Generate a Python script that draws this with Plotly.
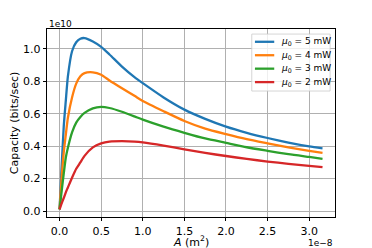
import plotly.graph_objects as go

# A in units of 1e-8 m^2, capacity in units of 1e10 bits/sec
area = [0, 0.02, 0.05, 0.075, 0.1, 0.15, 0.2, 0.25, 0.3, 0.4, 0.5, 0.6, 0.75, 0.9, 1.0,
        1.25, 1.5, 1.75, 2.0, 2.25, 2.5, 2.75, 3.0, 3.16]

cap_5mw = [0.01, 0.22, 0.52, 0.68, 0.83, 0.985, 1.04, 1.062, 1.066, 1.045, 1.012, 0.965, 0.89,
           0.825, 0.788, 0.70, 0.625, 0.568, 0.52, 0.482, 0.45, 0.422, 0.398, 0.386]
cap_4mw = [0.01, 0.17, 0.36, 0.47, 0.575, 0.70, 0.785, 0.83, 0.85, 0.855, 0.84, 0.805, 0.757,
           0.71, 0.678, 0.615, 0.555, 0.508, 0.474, 0.443, 0.417, 0.392, 0.371, 0.359]
cap_3mw = [0.01, 0.10, 0.23, 0.33, 0.39, 0.485, 0.545, 0.58, 0.605, 0.633, 0.642, 0.635, 0.612,
           0.583, 0.563, 0.52, 0.482, 0.447, 0.42, 0.393, 0.371, 0.35, 0.333, 0.322]
cap_2mw = [0.01, 0.04, 0.08, 0.115, 0.145, 0.205, 0.26, 0.30, 0.34, 0.392, 0.417, 0.428, 0.431,
           0.428, 0.423, 0.403, 0.38, 0.358, 0.339, 0.321, 0.305, 0.291, 0.278, 0.27]

series_names = ["<i>μ</i><sub>0</sub> = 5 mW", "<i>μ</i><sub>0</sub> = 4 mW",
                "<i>μ</i><sub>0</sub> = 3 mW", "<i>μ</i><sub>0</sub> = 2 mW"]
series_values = [cap_5mw, cap_4mw, cap_3mw, cap_2mw]
series_colors = ["#1f77b4", "#ff7f0e", "#2ca02c", "#d62728"]

x_ticks = [0, 0.5, 1.0, 1.5, 2.0, 2.5, 3.0]
y_ticks = [0, 0.2, 0.4, 0.6, 0.8, 1.0]

fig = go.Figure()
for name, vals, color in zip(series_names, series_values, series_colors):
    fig.add_trace(go.Scatter(x=area, y=vals, mode="lines", name=name, showlegend=False,
                             line=dict(color=color, width=2.3, shape="spline", smoothing=0.6)))

font = dict(family="DejaVu Sans", size=11, color="black")
axis_common = dict(showline=True, linecolor="black", linewidth=0.8, mirror=True,
                   ticks="outside", ticklen=3.5, tickwidth=0.8, tickcolor="black",
                   showgrid=True, gridcolor="#b0b0b0", gridwidth=0.8, zeroline=False,
                   tickfont=font, automargin=False)

# page has an 8px body margin; figure sized/offset to compensate
fig.update_layout(
    width=364, height=240, autosize=False,
    margin=dict(l=39, r=37, t=21, b=31),
    paper_bgcolor="white", plot_bgcolor="white",
    font=font,
    xaxis=dict(range=[-0.151, 3.31], tickvals=x_ticks, tickformat=".1f", **axis_common),
    yaxis=dict(range=[-0.037, 1.122], tickvals=y_ticks, tickformat=".1f",
               title=dict(text="Capacity (bits/sec)", font=font, standoff=2), **axis_common),
    showlegend=False,
)

# x-axis title
fig.add_annotation(text="<i>A</i> (m<sup>2</sup>)", xref="paper", yref="paper", x=0.5, y=0,
                   xanchor="center", yanchor="top", showarrow=False, font=font, yshift=-15)
# offset texts
fig.add_annotation(text="1e10", xref="paper", yref="paper", x=0, y=1.0,
                   xanchor="left", yanchor="bottom", showarrow=False,
                   font=dict(family="DejaVu Sans", size=9, color="black"), yshift=-2)
fig.add_annotation(text="1e−8", xref="paper", yref="paper", x=1.0, y=0,
                   xanchor="right", yanchor="top", showarrow=False,
                   font=dict(family="DejaVu Sans", size=9, color="black"), yshift=-19)

# custom compact legend (matplotlib style)
leg_x0, leg_x1, leg_top, leg_bottom = 0.711, 0.983, 0.973, 0.670
fig.add_shape(type="rect", xref="paper", yref="paper", x0=leg_x0, x1=leg_x1,
              y0=leg_bottom, y1=leg_top, fillcolor="rgba(255,255,255,0.8)",
              line=dict(color="#cccccc", width=0.8), layer="above")
first_y, step = 0.932, 0.0715
for i, (name, color) in enumerate(zip(series_names, series_colors)):
    yy = first_y - i * step
    fig.add_shape(type="line", xref="paper", yref="paper", x0=0.722, x1=0.789, y0=yy, y1=yy,
                  line=dict(color=color, width=2.3), layer="above")
    fig.add_annotation(text=name, xref="paper", yref="paper", x=0.805, y=yy,
                       xanchor="left", yanchor="middle", showarrow=False,
                       font=dict(family="DejaVu Sans", size=9, color="black"))

fig.write_html("out.html")
